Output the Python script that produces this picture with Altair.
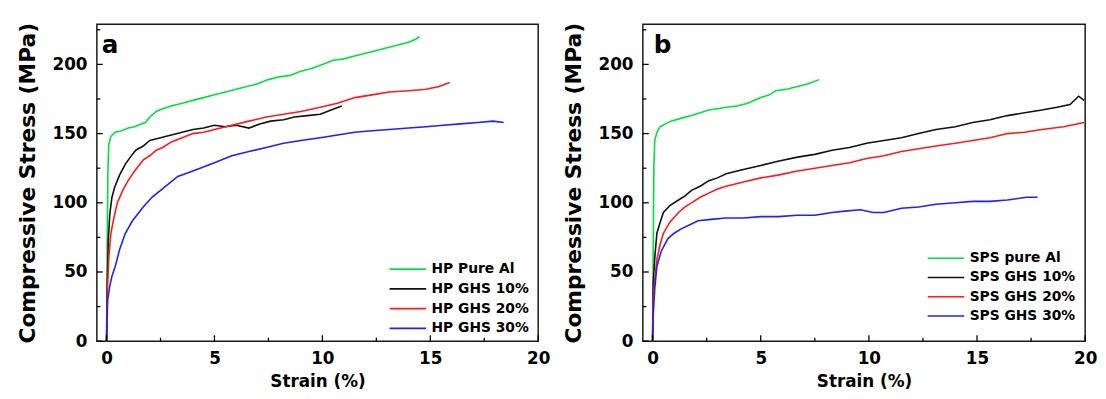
import altair as alt
import pandas as pd

# ---------------- Panel a (HP) ----------------
a_names = ["HP Pure Al", "HP GHS 10%", "HP GHS 20%", "HP GHS 30%"]

a_pure_x = [0, 0.03, 0.06, 0.1, 0.2, 0.4, 0.7, 1.0, 1.3, 1.6, 1.8, 2.0, 2.3, 2.6, 3.0, 3.5, 4.0, 4.5,
            5.0, 5.5, 6.0, 6.5, 7.0, 7.5, 8.0, 8.5, 9.0, 9.5, 10.0, 10.5, 11.0, 11.5, 12.0, 12.5,
            13.0, 13.5, 14.0, 14.3, 14.5]
a_pure_y = [0, 70, 120, 142, 148, 151, 152, 154, 155, 157, 158, 162, 166, 168, 170, 172, 174, 176,
            178, 180, 182, 184, 186, 189, 191, 192, 195, 197, 200, 203, 204, 206, 208, 210,
            212, 214, 216, 218, 220]

a_10_x = [0, 0.03, 0.08, 0.15, 0.25, 0.37, 0.6, 0.87, 1.1, 1.35, 1.7, 2.0, 2.5, 3.0, 3.5, 4.0, 4.5,
          5.0, 5.5, 6.0, 6.6, 7.1, 7.6, 8.2, 8.7, 9.3, 9.9, 10.4, 10.9]
a_10_y = [0, 40, 73, 92, 104, 111, 120, 128, 133, 138, 141, 145, 147, 149, 151, 153, 154,
          156, 155, 156, 154, 157, 159, 160, 162, 163, 164, 167, 170]

a_20_x = [0, 0.05, 0.1, 0.2, 0.35, 0.5, 0.75, 1.0, 1.3, 1.7, 2.0, 2.3, 2.6, 3.0, 3.5, 4.0, 4.5, 5.0,
          5.8, 6.6, 7.4, 8.2, 9.0, 9.9, 10.7, 11.5, 12.3, 13.1, 14.0, 14.8, 15.4, 15.9]
a_20_y = [0, 42, 60, 78, 90, 100, 109, 116, 123, 131, 134, 138, 140, 144, 147, 150, 151, 153,
          156, 159, 162, 164, 166, 169, 172, 176, 178, 180, 181, 182, 184, 187]

a_30_x = [0, 0.05, 0.15, 0.25, 0.4, 0.6, 0.87, 1.2, 1.7, 2.1, 2.5, 2.9, 3.3, 4.0, 5.0, 5.8, 6.6,
          7.4, 8.2, 9.0, 9.9, 10.7, 11.5, 12.3, 13.1, 14.0, 14.8, 15.6, 16.4, 17.2, 17.9, 18.4]
a_30_y = [0, 30, 40, 47, 54, 66, 78, 87, 97, 104, 109, 114, 119, 123, 129, 134, 137,
          140, 143, 145, 147, 149, 151, 152, 153, 154, 155, 156, 157, 158, 159, 158]

# ---------------- Panel b (SPS) ----------------
b_names = ["SPS pure Al", "SPS GHS 10%", "SPS GHS 20%", "SPS GHS 30%"]

b_pure_x = [0, 0.03, 0.06, 0.1, 0.2, 0.35, 0.6, 0.85, 1.3, 1.8, 2.2, 2.6, 3.0, 3.4, 3.9, 4.4,
            5.0, 5.4, 5.7, 6.2, 6.7, 7.2, 7.7]
b_pure_y = [0, 66, 126, 145, 151, 155, 157, 159, 161, 163, 165, 167, 168, 169, 170, 172,
            176, 178, 181, 182, 184, 186, 189]

b_10_x = [0, 0.03, 0.1, 0.2, 0.35, 0.5, 0.8, 1.2, 1.5, 1.8, 2.2, 2.6, 3.0, 3.4, 4.2, 5.0, 5.8,
          6.7, 7.5, 8.3, 9.1, 9.9, 10.7, 11.5, 12.3, 13.1, 14.0, 14.8, 15.6, 16.4, 17.2, 18.0,
          18.7, 19.3, 19.7, 19.95]
b_10_y = [0, 42, 60, 78, 86, 93, 98, 102, 105, 109, 112, 116, 118, 121, 124, 127, 130,
          133, 135, 138, 140, 143, 145, 147, 150, 153, 155, 158, 160, 163, 165, 167,
          169, 171, 177, 174]

b_20_x = [0, 0.03, 0.1, 0.2, 0.35, 0.5, 0.8, 1.2, 1.5, 1.8, 2.2, 2.6, 3.0, 3.4, 4.2, 5.0, 5.8,
          6.7, 7.5, 8.3, 9.1, 9.9, 10.7, 11.5, 12.3, 13.1, 14.0, 14.8, 15.6, 16.4, 17.2, 18.0,
          19.0, 19.95]
b_20_y = [0, 31, 45, 59, 70, 78, 86, 93, 97, 100, 104, 107, 110, 112, 115, 118, 120,
          123, 125, 127, 129, 132, 134, 137, 139, 141, 143, 145, 147, 150, 151, 153,
          155, 158]

b_30_x = [0, 0.03, 0.1, 0.2, 0.4, 0.7, 1.0, 1.3, 1.7, 2.1, 2.7, 3.4, 4.2, 5.0, 5.8, 6.7, 7.5,
          8.3, 8.9, 9.6, 10.2, 10.7, 11.5, 12.3, 13.1, 14.0, 14.8, 15.6, 16.4, 17.3, 17.8]
b_30_y = [0, 19, 38, 54, 65, 74, 78, 81, 84, 87, 88, 89, 89, 90, 90, 91, 91,
          93, 94, 95, 93, 93, 96, 97, 99, 100, 101, 101, 102, 104, 104]

colors = ["#00e03c", "#111111", "#ff1a1a", "#1f1fff"]

y_ticks = [0, 25, 50, 75, 100, 125, 150, 175, 200, 225]
x_ticks = [0, 2.5, 5, 7.5, 10, 12.5, 15, 17.5, 20]
y_labels = [0, 50, 100, 150, 200]
x_labels = [0, 5, 10, 15, 20]

FONT = "DejaVu Sans"
H = 321


def make_df(names, xs_list, ys_list):
    rows = []
    for n, xs, ys in zip(names, xs_list, ys_list):
        for i, (x, y) in enumerate(zip(xs, ys)):
            rows.append({"series": n, "strain": x, "stress": y, "order": i})
    return pd.DataFrame(rows)


def panel(df, names, letter, letter_x, legend_x, legend_y, row_pad, width):
    xscale = alt.Scale(domain=[-0.45, 20], nice=False, zero=False)
    yscale = alt.Scale(domain=[0, 229], nice=False)
    xaxis = alt.Axis(values=x_labels, title="Strain (%)", labelPadding=10,
                     titlePadding=7, titleFontSize=17, labelFlush=False)
    yaxis = alt.Axis(values=y_labels, title="Compressive Stress (MPa)",
                     labelPadding=10, titlePadding=13, titleFontSize=22)

    lines = alt.Chart(df).mark_line(strokeWidth=1.6).encode(
        x=alt.X("strain:Q", scale=xscale, axis=xaxis),
        y=alt.Y("stress:Q", scale=yscale, axis=yaxis),
        color=alt.Color("series:N", sort=names,
                        scale=alt.Scale(domain=names, range=colors),
                        legend=alt.Legend(title=None, orient="none", legendX=legend_x,
                                          legendY=legend_y, symbolType="M-3.7,0H3.7",
                                          symbolSize=100, symbolStrokeWidth=1.6,
                                          labelFont=FONT, labelFontWeight="bold",
                                          labelFontSize=14, labelColor="black",
                                          labelOffset=17, rowPadding=row_pad, padding=0)),
        order="order:Q",
    )

    ydf = pd.DataFrame({"stress": y_ticks})
    ymaj = ydf[ydf["stress"] % 50 == 0]
    ymin = ydf[ydf["stress"] % 50 != 0]
    xdf = pd.DataFrame({"strain": x_ticks})
    xmaj = xdf[xdf["strain"] % 5 == 0]
    xmin = xdf[xdf["strain"] % 5 != 0]

    ytick_major = alt.Chart(ymaj).mark_rule(color="black", strokeWidth=1.3).encode(
        y=alt.Y("stress:Q", scale=yscale, axis=yaxis), x=alt.value(0), x2=alt.value(6))
    ytick_minor = alt.Chart(ymin).mark_rule(color="black", strokeWidth=1.3).encode(
        y=alt.Y("stress:Q", scale=yscale, axis=yaxis), x=alt.value(0), x2=alt.value(3.5))
    xtick_major = alt.Chart(xmaj).mark_rule(color="black", strokeWidth=1.3).encode(
        x=alt.X("strain:Q", scale=xscale, axis=xaxis), y=alt.value(H), y2=alt.value(H - 6))
    xtick_minor = alt.Chart(xmin).mark_rule(color="black", strokeWidth=1.3).encode(
        x=alt.X("strain:Q", scale=xscale, axis=xaxis), y=alt.value(H), y2=alt.value(H - 3.5))

    label = alt.Chart(pd.DataFrame({"t": [letter]})).mark_text(
        font=FONT, fontSize=25, fontWeight="bold", align="left",
        baseline="alphabetic", color="black"
    ).encode(text="t:N", x=alt.value(letter_x), y=alt.value(29))

    return alt.layer(lines, ytick_major, ytick_minor, xtick_major, xtick_minor, label).properties(
        width=width, height=H)


dfa = make_df(a_names, [a_pure_x, a_10_x, a_20_x, a_30_x], [a_pure_y, a_10_y, a_20_y, a_30_y])
dfb = make_df(b_names, [b_pure_x, b_10_x, b_20_x, b_30_x], [b_pure_y, b_10_y, b_20_y, b_30_y])

pa = panel(dfa, a_names, "a", 5, 308, 241, 6, 447)
pb = panel(dfb, b_names, "b", 11, 300, 230, 5.5, 448)

chart = alt.hconcat(pa, pb, spacing=10).resolve_scale(color="independent").properties(
    padding={"top": 11, "left": 7, "right": 0, "bottom": 0}
).configure_view(
    stroke="#1a1a1a", strokeWidth=1.5
).configure_axis(
    labelFont=FONT, labelFontWeight="bold", labelFontSize=17, labelColor="black",
    titleFont=FONT, titleFontWeight="bold", titleColor="black",
    ticks=False, domain=False, grid=False
)

chart.save("out.html", embed_options={"renderer": "svg", "actions": False})
